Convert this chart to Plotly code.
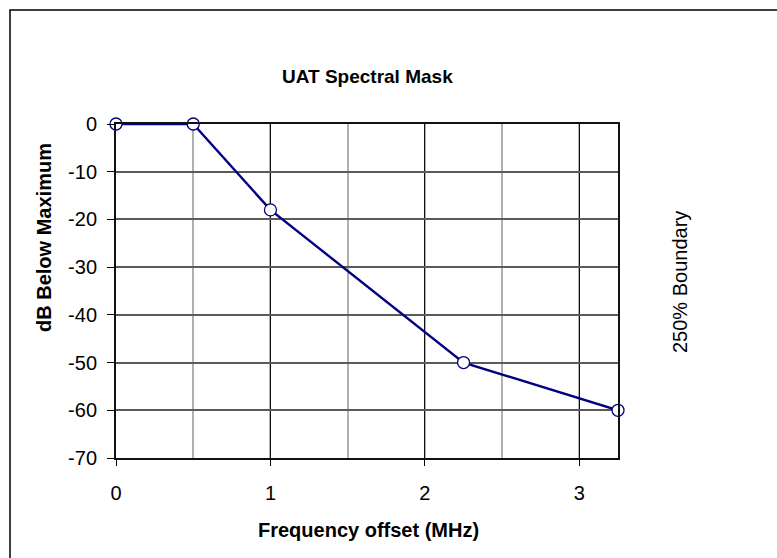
import plotly.graph_objects as go

freq_offset_mhz = [0, 0.5, 1.0, 2.25, 3.25]
db_below_max = [0, 0, -18, -50, -60]
x_tick_vals = [0, 1, 2, 3]
x_tick_text = ["0", "1", "2", "3"]
y_tick_vals = [0, -10, -20, -30, -40, -50, -60, -70]
y_tick_text = ["0", "-10", "-20", "-30", "-40", "-50", "-60", "-70"]

FONT = "Liberation Sans, Arial, sans-serif"
L, R, T, B = 116, 159, 124, 100
W, H = 777, 558
pw, ph = W - L - R, H - T - B

def px_to_paper_x(px):
    return (px - L) / pw

def px_to_paper_y(py):
    return (H - B - py) / ph

fig = go.Figure()
fig.add_trace(go.Scatter(
    x=freq_offset_mhz, y=db_below_max, mode="lines+markers",
    line=dict(color="#000080", width=2.4),
    marker=dict(symbol="circle", size=12, color="white",
                line=dict(color="#000080", width=1.3)),
    cliponaxis=False, showlegend=False,
))

fig.update_layout(
    width=W, height=H,
    margin=dict(l=L, r=R, t=T, b=B, autoexpand=False),
    paper_bgcolor="white", plot_bgcolor="white",
    font=dict(family=FONT, size=20, color="black"),
    xaxis=dict(
        range=[0, 3.25], tickvals=x_tick_vals, ticktext=x_tick_text,
        ticks="outside", ticklen=6, tickcolor="black", tickwidth=1,
        ticklabelstandoff=10,
        showgrid=True, gridcolor="#111111", gridwidth=1,
        minor=dict(dtick=0.5, tick0=0, showgrid=True, gridcolor="#b0b0b0", gridwidth=1.5),
        showline=True, linecolor="#111111", linewidth=2, mirror=True,
        zeroline=False, tickfont=dict(size=20), automargin=False,
        fixedrange=True,
    ),
    yaxis=dict(
        range=[-70, 0], tickvals=y_tick_vals, ticktext=y_tick_text,
        ticks="outside", ticklen=7, tickcolor="black", tickwidth=1,
        ticklabelstandoff=6,
        showgrid=True, gridcolor="#5a5a5a", gridwidth=1.5,
        showline=True, linecolor="#111111", linewidth=2, mirror=True,
        zeroline=False, tickfont=dict(size=20), automargin=False,
        fixedrange=True,
    ),
    shapes=[dict(type="rect", xref="paper", yref="paper",
                 x0=px_to_paper_x(10), x1=px_to_paper_x(800),
                 y0=px_to_paper_y(580), y1=px_to_paper_y(10),
                 line=dict(color="black", width=1.5), fillcolor="rgba(0,0,0,0)",
                 layer="below")],
    annotations=[
        dict(text="<b>UAT Spectral Mask</b>", xref="paper", yref="paper",
             x=px_to_paper_x(367), y=px_to_paper_y(77), showarrow=False,
             xanchor="center", yanchor="middle", font=dict(size=19, family=FONT)),
        dict(text="<b>Frequency offset (MHz)</b>", xref="paper", yref="paper",
             x=px_to_paper_x(368), y=px_to_paper_y(530), showarrow=False,
             xanchor="center", yanchor="middle", font=dict(size=20, family=FONT)),
        dict(text="<b>dB Below Maximum</b>", xref="paper", yref="paper",
             x=px_to_paper_x(44), y=px_to_paper_y(238), showarrow=False,
             textangle=-90, xanchor="center", yanchor="middle",
             font=dict(size=20, family=FONT)),
        dict(text="250% Boundary", xref="paper", yref="paper",
             x=px_to_paper_x(680), y=px_to_paper_y(282),
             textangle=-90, showarrow=False,
             xanchor="center", yanchor="middle",
             font=dict(size=20, family=FONT)),
    ],
)

fig.write_html("out.html", config={"displayModeBar": False},
               post_script="document.body.style.margin='0';document.body.style.padding='0';")
